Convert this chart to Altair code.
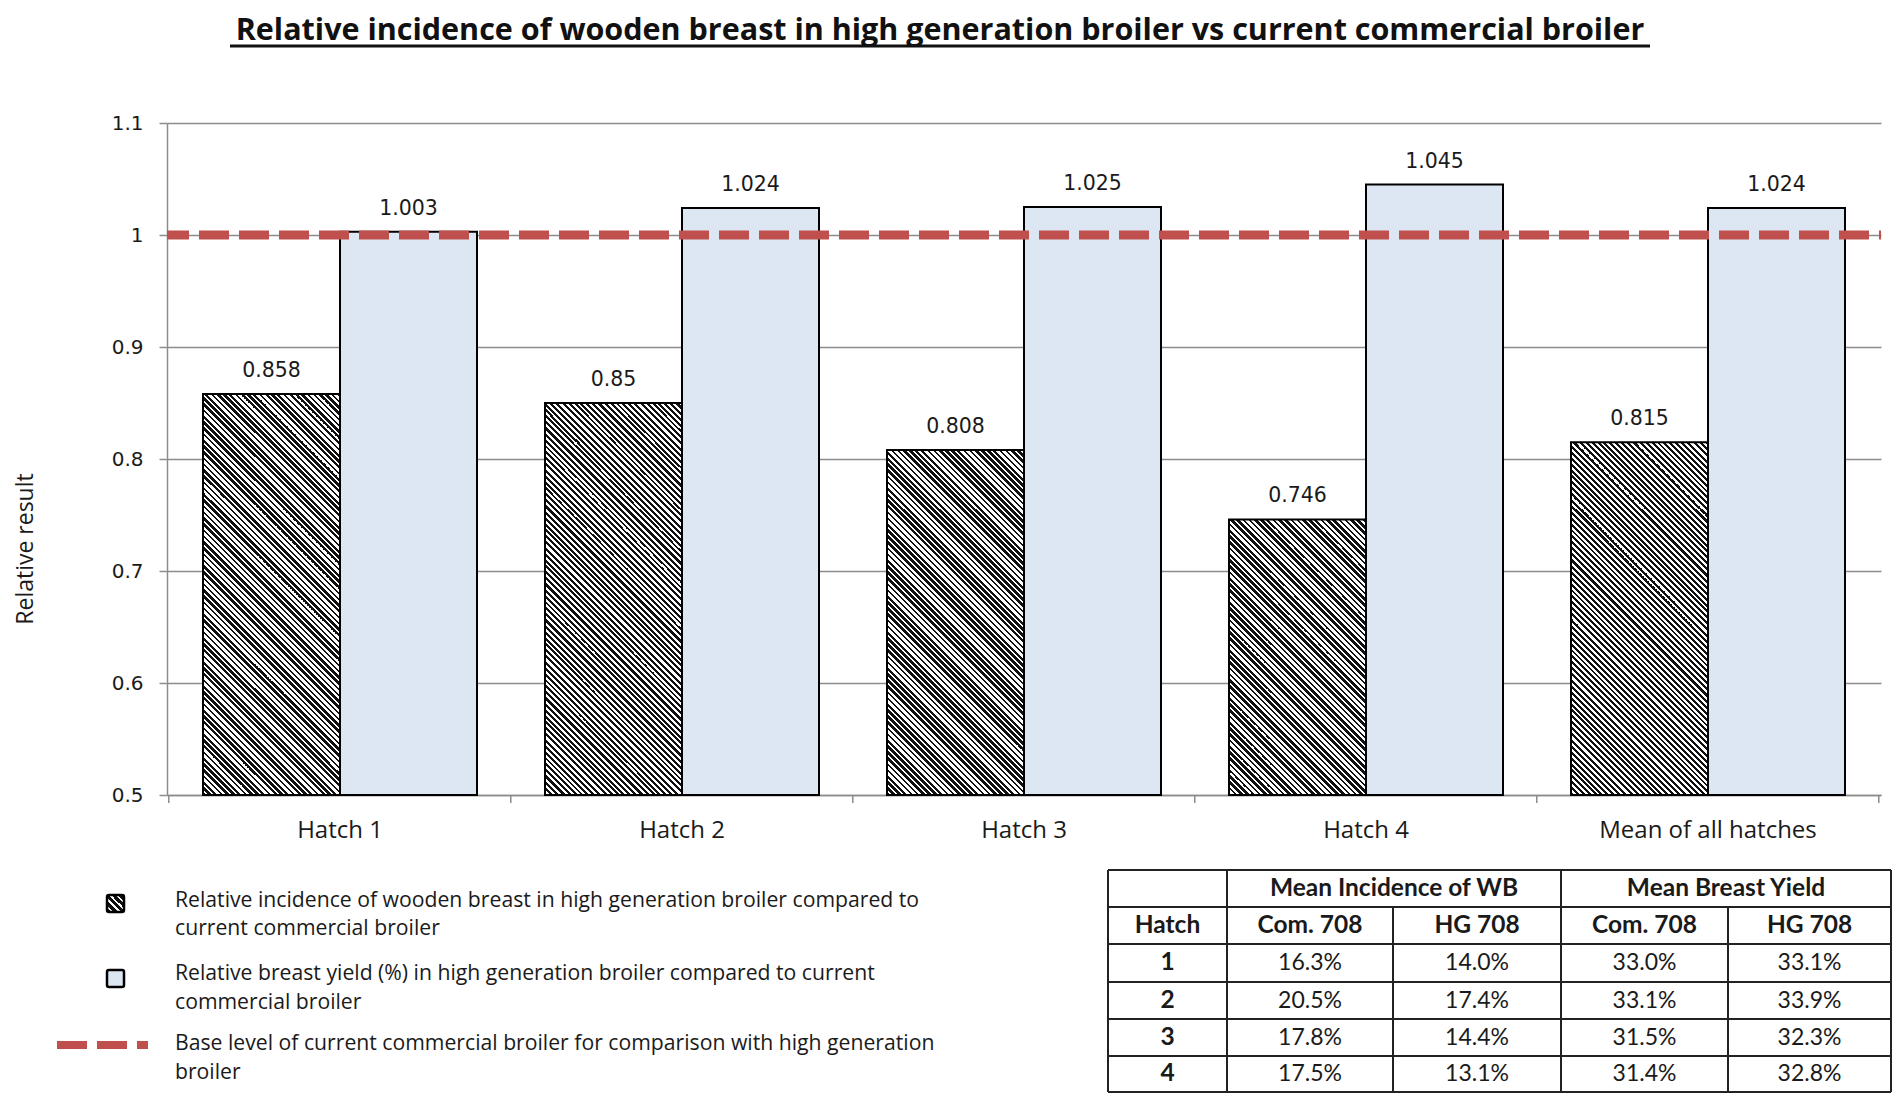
import math
import altair as alt
import pandas as pd

# ---------------- data ----------------
TITLE = "Relative incidence of wooden breast in high generation broiler vs current commercial broiler"
Y_TITLE = "Relative result"
categories = ["Hatch 1", "Hatch 2", "Hatch 3", "Hatch 4", "Mean of all hatches"]
wb_relative = [0.858, 0.85, 0.808, 0.746, 0.815]
yield_relative = [1.003, 1.024, 1.025, 1.045, 1.024]
base_level = [1.0]
y_ticks = [0.5, 0.6, 0.7, 0.8, 0.9, 1.0, 1.1]

legend_lines = [
    "Relative incidence of wooden breast in high generation broiler compared to",
    "current commercial broiler",
    "Relative breast yield (%) in high generation broiler compared to current",
    "commercial broiler",
    "Base level of current commercial broiler for comparison with high generation",
    "broiler",
]

table_group_headers = ["Mean Incidence of WB", "Mean Breast Yield"]
table_col_headers = ["Hatch", "Com. 708", "HG 708", "Com. 708", "HG 708"]
table_hatch = ["1", "2", "3", "4"]
table_com_wb = ["16.3%", "20.5%", "17.8%", "17.5%"]
table_hg_wb = ["14.0%", "17.4%", "14.4%", "13.1%"]
table_com_by = ["33.0%", "33.1%", "31.5%", "31.4%"]
table_hg_by = ["33.1%", "33.9%", "32.3%", "32.8%"]

# ---------------- layout / style ----------------
W, H = 1714, 672
PAD = {"left": 159, "top": 115, "right": 11, "bottom": 299}
Y_DOMAIN = [0.5, 1.1]
INK = "#1a1a1a"
GRID = "#8c8c8c"
BLUE = "#dde7f3"
RED = "#c0504d"
SANS = "Open Sans"
PAD_INNER, PAD_OUTER = 0.2, 0.1

# mirror Vega's rounded band scale so gradients / ticks line up with the bars
n_cat = len(categories)
step = math.floor(W / (n_cat - PAD_INNER + 2 * PAD_OUTER))
band_start = round((W - step * (n_cat - PAD_INNER)) * 0.5)
bandwidth = round(step * (1 - PAD_INNER))
bar_w = bandwidth / 2


def hatch_fill(w, h, period=6.0, duty=0.5, ink="#111111", paper="#ffffff"):
    """45-degree '\\' stripes expressed as a bounding-box linear gradient."""
    k = (w + h) / (w * w + h * h)
    n = (w + h) / period
    stops = []
    i = 0
    while i < n:
        a = i / n
        b = min((i + duty) / n, 1.0)
        c = min((i + 1) / n, 1.0)
        stops += [
            {"offset": round(a, 6), "color": ink},
            {"offset": round(b, 6), "color": ink},
            {"offset": round(b, 6), "color": paper},
            {"offset": round(c, 6), "color": paper},
        ]
        i += 1
    return {"gradient": "linear", "x1": 0, "y1": 1,
            "x2": round(k * w, 7), "y2": round(1 - k * h, 7), "stops": stops}


bars = pd.DataFrame(
    {
        "cat": categories * 2,
        "series": ["wb"] * n_cat + ["yield"] * n_cat,
        "value": wb_relative + yield_relative,
    }
)

x_axis = alt.Axis(title=None, ticks=False, grid=False, labelAngle=0, labelLimit=0,
                  labelFont=SANS, labelFontSize=24, labelColor=INK,
                  labelPadding=23, domainColor=GRID, domainWidth=1.5)
x_enc = alt.X(
    "cat:N",
    sort=categories,
    scale=alt.Scale(domain=categories, paddingInner=PAD_INNER, paddingOuter=PAD_OUTER, round=True),
    axis=x_axis,
)
xo_enc = alt.XOffset("series:N", sort=["wb", "yield"],
                     scale=alt.Scale(domain=["wb", "yield"]))
y_axis = alt.Axis(values=y_ticks, format="~g", title=None, grid=True,
                  gridColor=GRID, gridWidth=1.5, domainColor=GRID, domainWidth=1.5,
                  tickColor=GRID, tickWidth=1.5, tickSize=8,
                  labelFont="DejaVu Sans", labelFontSize=20, labelColor=INK,
                  labelPadding=16)
y_enc = alt.Y("value:Q", scale=alt.Scale(domain=Y_DOMAIN, nice=False, zero=False), axis=y_axis)

layers = []

# light blue bars
layers.append(
    alt.Chart(bars).transform_filter(alt.datum.series == "yield")
    .mark_bar(fill=BLUE, stroke="#000000", strokeWidth=2)
    .encode(x=x_enc, xOffset=xo_enc, y=y_enc, y2=alt.datum(Y_DOMAIN[0]))
)

# hatched bars, one gradient per bar (depends on bar height)
for c, v in zip(categories, wb_relative):
    h = (v - Y_DOMAIN[0]) / (Y_DOMAIN[1] - Y_DOMAIN[0]) * H
    layers.append(
        alt.Chart(bars)
        .transform_filter((alt.datum.series == "wb") & (alt.datum.cat == c))
        .mark_bar(fill=hatch_fill(bar_w, h), stroke="#000000", strokeWidth=2)
        .encode(x=x_enc, xOffset=xo_enc, y=y_enc, y2=alt.datum(Y_DOMAIN[0]))
    )

# value labels
layers.append(
    alt.Chart(bars)
    .mark_text(font="DejaVu Sans", fontSize=20.5, color=INK, baseline="alphabetic", dy=-17)
    .encode(x=x_enc, xOffset=xo_enc, y=y_enc, text=alt.Text("value:Q", format=".3~f"))
)

# base level dashed line
layers.append(
    alt.Chart(pd.DataFrame({"value": base_level}))
    .mark_rule(color=RED, strokeWidth=9, strokeDash=[30, 10], strokeDashOffset=28)
    .encode(y=y_enc)
)

# x-axis ticks at category boundaries
tick_df = pd.DataFrame(
    {"px": [band_start - step * PAD_INNER / 2 + k * step for k in range(n_cat + 1)]}
)
layers.append(
    alt.Chart(tick_df)
    .mark_rule(color=GRID, strokeWidth=1.5)
    .encode(x=alt.X("px:Q", scale=None, axis=None), y=alt.value(H), y2=alt.value(H + 8))
)

# title + underline
layers.append(
    alt.Chart(pd.DataFrame({"t": [TITLE]}))
    .mark_text(font=SANS, fontSize=30.5, fontWeight="bold", color="#111111",
               align="center", baseline="alphabetic")
    .encode(text="t:N", x=alt.value(773), y=alt.value(-83))
)
layers.append(
    alt.Chart(pd.DataFrame({"a": [0]}))
    .mark_rule(color="#111111", strokeWidth=3)
    .encode(x=alt.value(63), x2=alt.value(1483), y=alt.value(-77))
)

# y title
layers.append(
    alt.Chart(pd.DataFrame({"t": [Y_TITLE]}))
    .mark_text(font=SANS, fontSize=23, color=INK, angle=270,
               align="center", baseline="alphabetic")
    .encode(text="t:N", x=alt.value(-134), y=alt.value(426))
)

# legend
legend_y = [778, 806, 851, 880, 921, 950]
legend_df = pd.DataFrame({"t": legend_lines, "px": [8] * len(legend_lines), "py": legend_y})
layers.append(
    alt.Chart(legend_df)
    .mark_text(font=SANS, fontSize=21.2, color=INK, align="left", baseline="middle")
    .encode(text="t:N", x=alt.X("px:Q", scale=None, axis=None), y=alt.Y("py:Q", scale=None, axis=None))
)
sym = {"gradient": "linear", "x1": 0, "y1": 1, "x2": 1, "y2": 0,
       "stops": hatch_fill(17, 17, period=7, duty=0.6)["stops"]}
layers.append(
    alt.Chart(pd.DataFrame({"a": [0]}))
    .mark_rect(fill=sym, stroke="#000000", strokeWidth=2.5, cornerRadius=2)
    .encode(x=alt.value(-60), x2=alt.value(-43), y=alt.value(772), y2=alt.value(789))
)
layers.append(
    alt.Chart(pd.DataFrame({"a": [0]}))
    .mark_rect(fill=BLUE, stroke="#000000", strokeWidth=2.5, cornerRadius=2)
    .encode(x=alt.value(-60), x2=alt.value(-43), y=alt.value(847), y2=alt.value(864))
)
layers.append(
    alt.Chart(pd.DataFrame({"a": [0]}))
    .mark_rule(color=RED, strokeWidth=8, strokeDash=[30, 10])
    .encode(x=alt.value(-110), x2=alt.value(-19), y=alt.value(922))
)

# table
col_edges = [941, 1060, 1226, 1394, 1561, 1724]
row_edges = [747, 784, 821, 859, 896, 933, 969]
col_c = [(a + b) / 2 for a, b in zip(col_edges[:-1], col_edges[1:])]
row_c = [(a + b) / 2 for a, b in zip(row_edges[:-1], row_edges[1:])]

cells = []
cells.append((table_group_headers[0], (col_edges[1] + col_edges[3]) / 2, row_c[0], "bold"))
cells.append((table_group_headers[1], (col_edges[3] + col_edges[5]) / 2, row_c[0], "bold"))
for j, t in enumerate(table_col_headers):
    cells.append((t, col_c[j], row_c[1], "bold"))
for i in range(len(table_hatch)):
    row = [table_hatch[i], table_com_wb[i], table_hg_wb[i], table_com_by[i], table_hg_by[i]]
    for j, t in enumerate(row):
        cells.append((t, col_c[j], row_c[i + 2], "bold" if j == 0 else "normal"))
cells_df = pd.DataFrame(cells, columns=["t", "px", "py", "w"])

for wgt, fs in [("bold", 24.5), ("normal", 23)]:
    layers.append(
        alt.Chart(cells_df).transform_filter(alt.datum.w == wgt)
        .mark_text(font="Lato", fontSize=fs, fontWeight=wgt, color=INK,
                   align="center", baseline="middle")
        .encode(text="t:N", x=alt.X("px:Q", scale=None, axis=None),
                y=alt.Y("py:Q", scale=None, axis=None))
    )

segs = []
for r in row_edges:
    segs.append((col_edges[0], col_edges[-1], r, r))
for k, cx in enumerate(col_edges):
    top = row_edges[1] if k in (2, 4) else row_edges[0]
    segs.append((cx, cx, top, row_edges[-1]))
segs_df = pd.DataFrame(segs, columns=["x", "x2", "y", "y2"])
layers.append(
    alt.Chart(segs_df)
    .mark_rule(color="#222222", strokeWidth=2)
    .encode(x=alt.X("x:Q", scale=None, axis=None), x2="x2:Q",
            y=alt.Y("y:Q", scale=None, axis=None), y2="y2:Q")
)

chart = (
    alt.layer(*layers)
    .properties(width=W, height=H, padding=PAD,
                autosize=alt.AutoSizeParams(type="none"), background="white")
    .configure_view(stroke=None)
)

chart.save("out.html", embed_options={"renderer": "svg", "actions": False})
